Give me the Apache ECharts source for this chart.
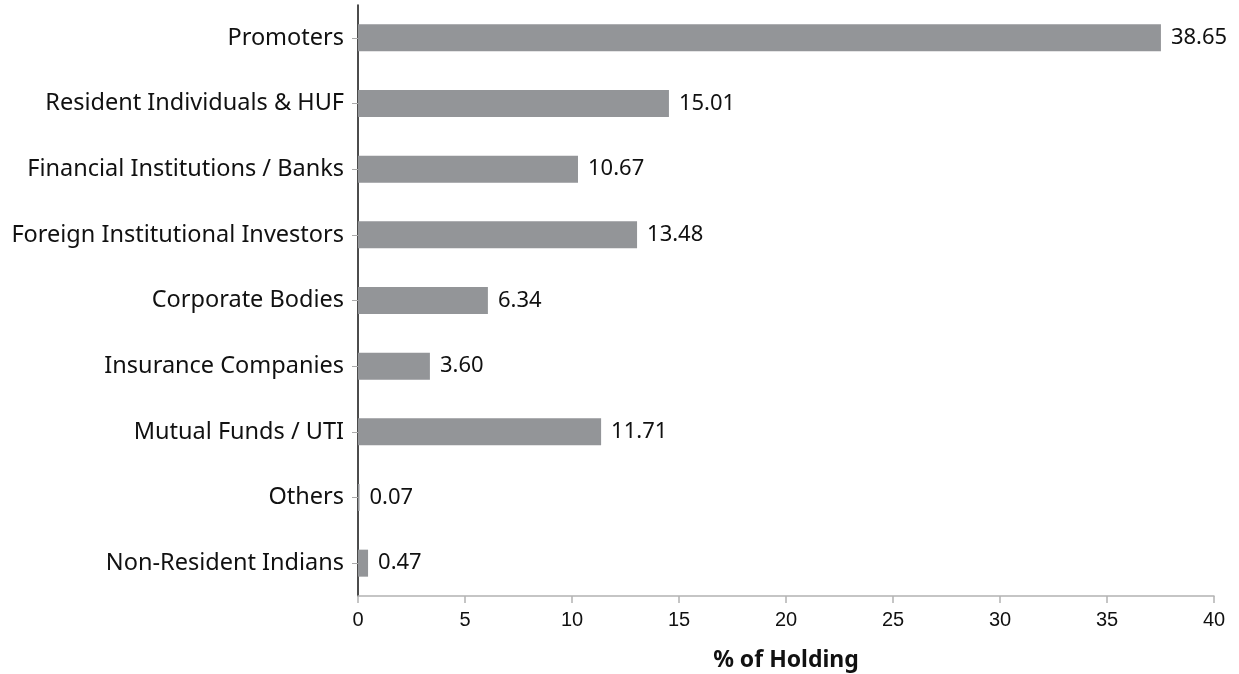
<!DOCTYPE html>
<html>
<head>
<meta charset="utf-8">
<script src="https://cdn.jsdelivr.net/npm/echarts@6/dist/echarts.min.js"></script>
<style>
  html, body { margin: 0; padding: 0; background: #fff; }
  #main { width: 1239px; height: 674px; }
</style>
</head>
<body>
<div id="main"></div>
<script>
// categories, top to bottom as in the picture
const categories = [
  'Promoters',
  'Resident Individuals & HUF',
  'Financial Institutions / Banks',
  'Foreign Institutional Investors',
  'Corporate Bodies',
  'Insurance Companies',
  'Mutual Funds / UTI',
  'Others',
  'Non-Resident Indians'
];
// bar lengths as drawn against the axis
const holding = [37.52, 14.53, 10.28, 13.04, 6.07, 3.36, 11.36, 0.07, 0.47];
// printed value labels
const valueLabels = ['38.65', '15.01', '10.67', '13.48', '6.34', '3.60', '11.71', '0.07', '0.47'];
const xTicks = [0, 5, 10, 15, 20, 25, 30, 35, 40];

const chart = echarts.init(document.getElementById('main'));
chart.setOption({
  animation: false,
  backgroundColor: '#fff',
  grid: { left: 358, right: 25, top: 5, bottom: 78, containLabel: false, outerBoundsMode: 'none' },
  xAxis: {
    type: 'value',
    min: xTicks[0],
    max: xTicks[xTicks.length - 1],
    interval: 5,
    name: '% of Holding',
    nameLocation: 'middle',
    nameGap: 53,
    nameTextStyle: { fontFamily: 'Noto Sans', fontWeight: 'bold', fontSize: 23, color: '#111' },
    axisLine: { show: true, lineStyle: { color: '#b3b3b3', width: 1.5 } },
    axisTick: { show: true, length: 7, lineStyle: { color: '#b3b3b3', width: 1.5 } },
    axisLabel: { fontFamily: 'Liberation Sans', fontSize: 20, color: '#111', margin: 14 },
    splitLine: { show: false }
  },
  yAxis: {
    type: 'category',
    data: categories,
    inverse: true,
    axisLine: { show: true, lineStyle: { color: '#111', width: 1.5 } },
    axisTick: { show: true, alignWithLabel: true, length: 6, lineStyle: { color: '#aaa' } },
    axisLabel: { fontFamily: 'Noto Sans', fontSize: 23.5, color: '#111', margin: 14 }
  },
  series: [{
    type: 'bar',
    data: holding,
    barWidth: 27,
    itemStyle: { color: '#939598' },
    label: {
      show: true,
      position: 'right',
      distance: 10,
      fontFamily: 'Noto Sans',
      fontSize: 22,
      color: '#111',
      formatter: p => valueLabels[p.dataIndex]
    }
  }]
});
</script>
</body>
</html>
